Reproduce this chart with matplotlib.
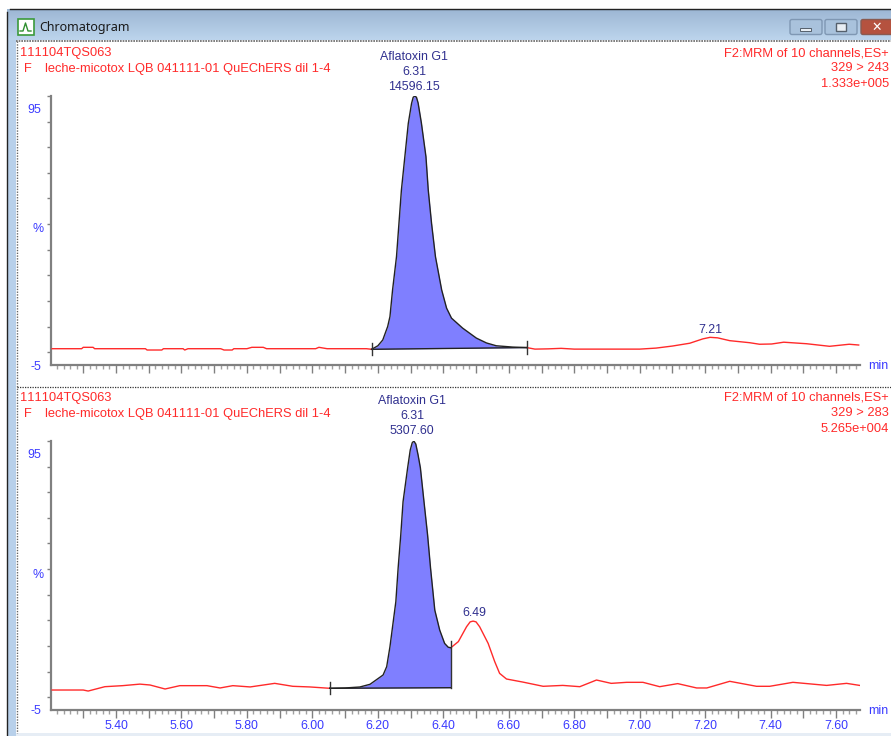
import numpy as np
import matplotlib
matplotlib.use("Agg")
import matplotlib.pyplot as plt
from matplotlib.patches import Rectangle, FancyBboxPatch
from matplotlib.ticker import FixedLocator, NullFormatter

plt.rcParams['font.family'] = ['Liberation Sans', 'DejaVu Sans']
plt.rcParams['text.kerning_factor'] = 6

# --- data (minutes, %) ---
top_time = [5.205, 5.295, 5.30, 5.33, 5.335, 5.49, 5.495, 5.54, 5.545, 5.605, 5.61, 5.62, 5.72, 5.73, 5.755,
            5.76, 5.80, 5.815, 5.85, 5.86, 6.01, 6.02, 6.045, 6.165]
top_signal = [1.36, 1.36, 1.9, 1.9, 1.36, 1.36, 0.85, 0.85, 1.36, 1.36, 0.85, 1.36, 1.36, 0.85, 0.85,
              1.36, 1.36, 1.9, 1.9, 1.36, 1.36, 1.9, 1.36, 1.36]
top_peak_time = [6.181, 6.20, 6.215, 6.23, 6.237, 6.245, 6.257, 6.272, 6.293, 6.303, 6.308, 6.313, 6.318, 6.323,
                 6.333, 6.347, 6.354, 6.364, 6.376, 6.395, 6.41, 6.425, 6.459, 6.501, 6.532, 6.562, 6.612, 6.655]
top_peak_signal = [1.13, 2.5, 4.76, 10, 13.9, 24.3, 37.3, 63.3, 89.3, 97.1, 99.5, 100, 99.5, 97.3,
                   89.5, 76.3, 63.3, 50.4, 37.3, 24.3, 17.2, 13.3, 9.4, 5.5, 3.6, 2.5, 2.0, 1.8]
top_tail_time = [6.68, 6.72, 6.76, 6.80, 6.90, 7.00, 7.05, 7.10, 7.153, 7.193, 7.215, 7.238, 7.275, 7.336, 7.366,
                 7.403, 7.44, 7.51, 7.58, 7.64, 7.669]
top_tail_signal = [1.2, 1.3, 1.5, 1.2, 1.2, 1.2, 1.6, 2.4, 3.5, 5.2, 5.8, 5.6, 4.5, 3.7, 3.1,
                   3.2, 3.9, 3.3, 2.3, 3.1, 2.8]

bot_time = [5.205, 5.30, 5.315, 5.366, 5.42, 5.473, 5.504, 5.55, 5.595, 5.678, 5.718, 5.757, 5.81, 5.885,
            5.94, 5.992]
bot_signal = [2.8, 2.8, 2.4, 4.1, 4.5, 5.1, 4.76, 3.2, 4.5, 4.5, 3.6, 4.5, 4.0, 5.4,
              4.25, 4.0]
bot_peak_time = [6.053, 6.10, 6.145, 6.176, 6.216, 6.227, 6.237, 6.255, 6.262, 6.27, 6.277, 6.291, 6.299, 6.305,
                 6.31, 6.316, 6.323, 6.33, 6.341, 6.352, 6.361, 6.374, 6.389, 6.404, 6.415, 6.423]
bot_peak_signal = [3.47, 3.6, 3.98, 5.03, 8.66, 11.9, 19.7, 37.3, 50.4, 63.3, 76.3, 89.5, 96.5, 99.3,
                   100, 98.8, 94.5, 89.5, 76.3, 63.3, 50.4, 34, 26.2, 21, 19.5, 19.3]
bot_tail_time = [6.446, 6.471, 6.482, 6.491, 6.50, 6.511, 6.537, 6.557, 6.572, 6.593, 6.643, 6.705, 6.765, 6.817,
                 6.868, 6.913, 6.96, 7.01, 7.061, 7.116, 7.174, 7.205, 7.275, 7.357, 7.397, 7.468, 7.571, 7.632,
                 7.672]
bot_tail_signal = [21.7, 27.5, 29.4, 29.7, 29.4, 27.5, 21, 13.9, 9.3, 7.1, 5.9, 4.25, 4.6, 4.1,
                   6.7, 5.4, 5.8, 5.8, 4.1, 5.3, 3.6, 3.6, 6.2, 4.25, 4.25, 5.8, 4.6, 5.4,
                   4.6]

top_base_end = 1.8
bot_base_end = 3.7
x_ticks = [5.40, 5.60, 5.80, 6.00, 6.20, 6.40, 6.60, 6.80, 7.00, 7.20, 7.40, 7.60]
y_labels = [-5, 95]

RED = '#ff2a2a'
NAVY = '#30308f'
BLUE = '#3a3aff'
GREY = '#808080'
FILL = '#7f7fff'
W, H = 891, 736
SIZE = 8.9
RED_SIZE = 9.25

fig = plt.figure(figsize=(W / 100, H / 100), dpi=100, facecolor='white')

# window frame, in pixels
bg = fig.add_axes([0, 0, 1, 1])
bg.set_xlim(0, W)
bg.set_ylim(H, 0)
bg.axis('off')
grad = np.linspace(0, 1, 32).reshape(-1, 1)
cmap = matplotlib.colors.LinearSegmentedColormap.from_list('bar', ['#9db7d4', '#bcd4ec'])
bg.imshow(grad, extent=(7, W, 40, 9), cmap=cmap, aspect='auto', zorder=1)
bg.set_xlim(0, W)
bg.set_ylim(H, 0)
bg.add_patch(Rectangle((8, 40), 8, H - 40, color='#b8d0ea', lw=0, zorder=1))
bg.add_patch(Rectangle((16, 733), W - 16, 3, color='#e6edf5', lw=0, zorder=1))
bg.plot([7, 7], [12, H], color='#222222', lw=1, zorder=3)
bg.plot([10, W], [8.5, 8.5], color='#222222', lw=1, zorder=3)
bg.plot([16, W], [41, 41], color='#666666', lw=1.2, ls=(0, (1, 0.6)), zorder=3)
bg.plot([16.5, 16.5], [41, H - 3], color='#666666', lw=1, ls=(0, (1, 1)), zorder=3)
bg.plot([17, W], [386.5, 386.5], color='#333333', lw=0.9, ls=(0, (1, 1)), zorder=3)

# title icon and text
bg.add_patch(Rectangle((17.5, 18.5), 16, 16, fc='white', ec='#3b9a3b', lw=1.2, zorder=3))
bg.plot([20, 23, 25.5, 28, 31], [31, 31, 23, 31, 31], color='#2f8f2f', lw=1, zorder=4)
bg.text(39, 28, 'Chromatogram', fontsize=9, color='#1a1a1a', va='center', family='Noto Sans', zorder=4)

# window buttons
for x0, x1, col, edge in [(790, 822, '#a9c2dc', '#7f97b3'), (825, 857, '#a9c2dc', '#7f97b3'),
                          (861, 895, '#b5523f', '#8a5a50')]:
    bg.add_patch(FancyBboxPatch((x0, 19.5), x1 - x0, 15, boxstyle='round,pad=0,rounding_size=2',
                                fc=col, ec=edge, lw=1, zorder=3))
bg.add_patch(Rectangle((800, 28), 11, 3, fc='#e8eef4', ec='#55606c', lw=0.7, zorder=4))
bg.add_patch(Rectangle((836, 23), 10, 8, fc='#e8eef4', ec='#55606c', lw=1, zorder=4))
bg.text(877, 27.5, '✕', fontsize=9, color='white', ha='center', va='center', weight='bold',
        family='DejaVu Sans', zorder=4)


def panel(y_top, y_bot, show_labels):
    ax = fig.add_axes([51 / W, 1 - y_bot / H, (860 - 51) / W, (y_bot - y_top) / H])
    ax.patch.set_alpha(0)
    ax.set_xlim(5.2015, 7.673)
    ax.set_ylim(-5, 100)
    for s in ['top', 'right']:
        ax.spines[s].set_visible(False)
    for s in ['left', 'bottom']:
        ax.spines[s].set_color(GREY)
        ax.spines[s].set_linewidth(1.6)
    ax.xaxis.set_major_locator(FixedLocator(np.arange(5.3, 7.61, 0.1)))
    ax.xaxis.set_minor_locator(FixedLocator(np.arange(5.22, 7.67, 0.02)))
    ax.tick_params(axis='x', which='major', length=5.5, width=1, color=GREY, labelbottom=False)
    ax.tick_params(axis='x', which='minor', length=3, width=1, color='#a0a0a0')
    ax.set_yticks(y_labels)
    ax.set_yticklabels([str(v) for v in y_labels], fontsize=SIZE, color=BLUE)
    ax.yaxis.set_minor_locator(FixedLocator(np.arange(0, 101, 10)))
    ax.yaxis.set_minor_formatter(NullFormatter())
    ax.tick_params(axis='y', which='major', length=0, pad=7)
    ax.tick_params(axis='y', which='minor', length=3, width=1, color=GREY)
    if show_labels:
        for v in x_ticks:
            ax.text(v, -9, '%.2f' % v, fontsize=SIZE, color=BLUE, ha='center', va='top', clip_on=False)
    return ax


def draw(ax, t_left, s_left, t_peak, s_peak, t_tail, s_tail, base_end):
    peak_t = np.array(t_peak)
    peak_s = np.array(s_peak)
    base = np.interp(peak_t, [peak_t[0], peak_t[-1]], [peak_s[0], base_end])
    ax.fill_between(peak_t, base, peak_s, color=FILL, lw=0, zorder=2)
    ax.plot(list(t_left) + [t_peak[0]], list(s_left) + [s_peak[0]], color=RED, lw=1, zorder=3)
    ax.plot([t_peak[-1]] + list(t_tail), [s_peak[-1]] + list(s_tail), color=RED, lw=1, zorder=3)
    ax.plot(peak_t, peak_s, color='#222222', lw=1, zorder=4)
    ax.plot([peak_t[0], peak_t[-1]], [peak_s[0], base_end], color='#222222', lw=1, zorder=4)


ax1 = panel(96, 365, False)
draw(ax1, top_time, top_signal, top_peak_time, top_peak_signal, top_tail_time, top_tail_signal, top_base_end)
ax1.plot([6.181, 6.181], [-1.2, 3.4], color='#333333', lw=1, zorder=5)
ax1.plot([6.655, 6.655], [-0.6, 4.2], color='#333333', lw=1, zorder=5)

ax2 = panel(441, 710, True)
draw(ax2, bot_time, bot_signal, bot_peak_time, bot_peak_signal, bot_tail_time, bot_tail_signal, bot_base_end)
ax2.plot([6.053, 6.053], [1.1, 5.9], color='#333333', lw=1, zorder=5)
ax2.plot([6.423, 6.423], [3.7, 22], color='#333333', lw=1, zorder=5)


def label(x, y, s, col=RED, ha='left'):
    size = RED_SIZE if col == RED else SIZE
    bg.text(x, y, s, fontsize=size, color=col, ha=ha, va='center', zorder=5)


for y0, sub, big, y_name, x_name, area, y_pct, y_min in [
        (53, '329 > 243', '1.333e+005', 57, 414, '14596.15', 229, 366),
        (398, '329 > 283', '5.265e+004', 401, 412, '5307.60', 575, 711)]:
    label(20, y0, '111104TQS063')
    label(24, y0 + 16, 'F')
    label(45, y0 + 16, 'leche-micotox LQB 041111-01 QuEChERS dil 1-4')
    label(889, y0, 'F2:MRM of 10 channels,ES+', ha='right')
    label(889, y0 + 15, sub, ha='right')
    label(889, y0 + 31, big, ha='right')
    label(x_name, y_name, 'Aflatoxin G1', NAVY, 'center')
    label(x_name, y_name + 15, '6.31', NAVY, 'center')
    label(x_name, y_name + 30, area, NAVY, 'center')
    label(38, y_pct, '%', BLUE, 'center')
    label(878, y_min, 'min', BLUE, 'center')

label(710, 330, '7.21', NAVY, 'center')
label(474, 613, '6.49', NAVY, 'center')

fig.savefig('out.png', dpi=100)
